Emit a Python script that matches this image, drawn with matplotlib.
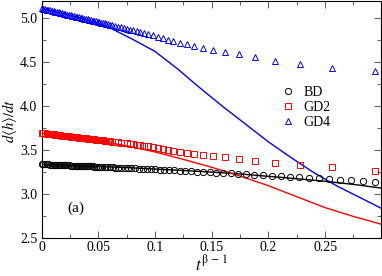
import matplotlib
matplotlib.use("Agg")
import matplotlib.pyplot as plt

plt.rcParams["font.family"] = ["Liberation Serif", "DejaVu Serif"]
plt.rcParams["mathtext.fontset"] = "stix"

# GD2 / GD4 markers share the same x positions
gd_x = [0.000, 0.0015, 0.003, 0.0045, 0.006, 0.0075, 0.009, 0.0105, 0.012, 0.0135,
        0.015, 0.0165, 0.018, 0.0195, 0.021, 0.0225, 0.024, 0.0255, 0.027, 0.0285,
        0.030, 0.0315, 0.033, 0.0345, 0.036, 0.0375, 0.039, 0.0405, 0.042, 0.0435,
        0.045, 0.0465, 0.048, 0.0495, 0.051, 0.0525, 0.054, 0.0555, 0.057, 0.0585,
        0.060, 0.0625, 0.065, 0.0675, 0.070, 0.0725, 0.075, 0.078, 0.081, 0.084,
        0.087, 0.0905, 0.094, 0.098, 0.1026, 0.107, 0.1114, 0.1161, 0.1217, 0.1279,
        0.1347, 0.1422, 0.1514, 0.1616, 0.1737, 0.1884, 0.2061, 0.2278, 0.2563, 0.2939]
gd4_y = [5.110, 5.105, 5.101, 5.096, 5.091, 5.087, 5.082, 5.077, 5.073, 5.068,
         5.064, 5.059, 5.054, 5.050, 5.045, 5.040, 5.036, 5.031, 5.026, 5.022,
         5.017, 5.012, 5.008, 5.003, 4.998, 4.994, 4.989, 4.984, 4.980, 4.975,
         4.971, 4.966, 4.961, 4.957, 4.952, 4.947, 4.943, 4.938, 4.933, 4.929,
         4.924, 4.916, 4.909, 4.901, 4.893, 4.885, 4.877, 4.868, 4.859, 4.850,
         4.840, 4.829, 4.818, 4.806, 4.788, 4.769, 4.752, 4.738, 4.720, 4.704,
         4.685, 4.663, 4.640, 4.613, 4.587, 4.553, 4.515, 4.477, 4.432, 4.394]
gd2_y = [3.690, 3.688, 3.685, 3.683, 3.681, 3.678, 3.676, 3.674, 3.671, 3.669,
         3.667, 3.664, 3.662, 3.660, 3.657, 3.655, 3.653, 3.650, 3.648, 3.646,
         3.644, 3.641, 3.639, 3.637, 3.634, 3.632, 3.630, 3.627, 3.625, 3.623,
         3.620, 3.618, 3.616, 3.613, 3.611, 3.609, 3.606, 3.604, 3.602, 3.599,
         3.597, 3.593, 3.589, 3.585, 3.581, 3.577, 3.573, 3.568, 3.563, 3.558,
         3.552, 3.546, 3.539, 3.531, 3.516, 3.505, 3.494, 3.483, 3.472, 3.462,
         3.454, 3.443, 3.428, 3.412, 3.394, 3.372, 3.349, 3.322, 3.299, 3.261]

bd_x = [0.000, 0.0015, 0.003, 0.0045, 0.006, 0.0075, 0.009, 0.0105, 0.012, 0.0135,
        0.015, 0.0165, 0.018, 0.0195, 0.021, 0.0225, 0.024, 0.0255, 0.027, 0.0285,
        0.030, 0.0315, 0.033, 0.0345, 0.036, 0.0375, 0.039, 0.0405, 0.042, 0.0435,
        0.045, 0.0465, 0.048, 0.0495, 0.0515, 0.0535, 0.0556, 0.0578, 0.0602, 0.0626,
        0.0651, 0.0677, 0.0704, 0.0732, 0.0761, 0.0791, 0.0823, 0.0856, 0.0890, 0.0926,
        0.0963, 0.1001, 0.1041, 0.1083, 0.1126, 0.1171, 0.1218, 0.1267, 0.1317, 0.1370,
        0.1425, 0.1482, 0.1541, 0.1603, 0.1667, 0.1734, 0.1803, 0.1875, 0.1950, 0.2034,
        0.2108, 0.2187, 0.2269, 0.2358, 0.2446, 0.2534, 0.2632, 0.2731, 0.2837, 0.2943]
bd_y = [3.335, 3.334, 3.333, 3.332, 3.332, 3.331, 3.330, 3.329, 3.328, 3.327,
        3.326, 3.325, 3.325, 3.324, 3.323, 3.322, 3.321, 3.320, 3.319, 3.318,
        3.318, 3.317, 3.316, 3.315, 3.314, 3.313, 3.312, 3.312, 3.311, 3.310,
        3.309, 3.308, 3.307, 3.306, 3.305, 3.304, 3.303, 3.302, 3.300, 3.299,
        3.297, 3.296, 3.294, 3.292, 3.291, 3.289, 3.287, 3.285, 3.283, 3.280,
        3.278, 3.275, 3.273, 3.270, 3.267, 3.264, 3.261, 3.258, 3.255, 3.251,
        3.248, 3.244, 3.240, 3.235, 3.231, 3.226, 3.221, 3.216, 3.211, 3.204,
        3.199, 3.193, 3.187, 3.180, 3.173, 3.167, 3.159, 3.151, 3.143, 3.134]

# solid curves
fit_x = [0.000, 0.025, 0.050, 0.075, 0.100, 0.125, 0.150, 0.175, 0.200, 0.225,
         0.250, 0.275, 0.300]
bd_fit = [3.335, 3.323, 3.310, 3.296, 3.280, 3.263, 3.245, 3.224, 3.197, 3.170,
          3.140, 3.105, 3.062]
gd2_fit = [3.690, 3.645, 3.600, 3.545, 3.475, 3.390, 3.300, 3.200, 3.090, 2.965,
           2.840, 2.740, 2.650]
gd4_x = [0.000, 0.020, 0.040, 0.060, 0.080, 0.100, 0.105, 0.120, 0.140, 0.160,
         0.180, 0.200, 0.220, 0.240, 0.260, 0.280, 0.300]
gd4_fit = [5.110, 5.050, 4.980, 4.890, 4.760, 4.620, 4.570, 4.420, 4.200, 3.990,
           3.790, 3.590, 3.410, 3.240, 3.090, 2.960, 2.830]

xticks = [0, 0.05, 0.1, 0.15, 0.2, 0.25]
xtick_labels = ["0", "0.05", "0.1", "0.15", "0.2", "0.25"]
yticks = [2.5, 3.0, 3.5, 4.0, 4.5, 5.0]
ytick_labels = ["2.5", "3.0", "3.5", "4.0", "4.5", "5.0"]

fig = plt.figure(figsize=(3.82, 2.76), dpi=100)
ax = fig.add_axes([41.6 / 382, 1 - 237.5 / 276, (381 - 41.6) / 382, 237.0 / 276])

ax.plot(fit_x, bd_fit, color="black", lw=1.0, zorder=2)
ax.plot(fit_x, gd2_fit, color="red", lw=1.0, zorder=2)
ax.plot(gd4_x, gd4_fit, color="blue", lw=1.0, zorder=2)

ax.plot(bd_x, bd_y, ls="none", marker="o", ms=4.5, mfc="none", mec="black",
        mew=0.7, label="BD", clip_on=False, zorder=3)
ax.plot(gd_x, gd2_y, ls="none", marker="s", ms=4.0, mfc="none", mec="red",
        mew=0.7, label="GD2", clip_on=False, zorder=3)
ax.plot(gd_x, gd4_y, ls="none", marker="^", ms=4.5, mfc="none", mec="blue",
        mew=0.7, label="GD4", clip_on=False, zorder=3)

ax.set_xlim(0, 0.2993)
ax.set_ylim(2.5, 5.2)
ax.set_xticks(xticks)
ax.set_xticklabels(xtick_labels)
ax.set_yticks(yticks)
ax.set_yticklabels(ytick_labels)
ax.set_xticks([0.025, 0.075, 0.125, 0.175, 0.225, 0.275], minor=True)
ax.set_yticks([2.75, 3.25, 3.75, 4.25, 4.75], minor=True)
ax.tick_params(which="both", direction="in", top=True, right=True,
               color="#666666", width=0.8, labelsize=10)
ax.tick_params(which="major", length=5)
ax.tick_params(which="minor", length=3)
ax.tick_params(axis="x", pad=2.5)
ax.tick_params(axis="y", pad=3)
for s in ax.spines.values():
    s.set_linewidth(0.8)

ax.set_ylabel(r"$d\langle h\rangle/dt$", fontsize=10.5)
ax.yaxis.set_label_coords(-0.066, 0.49)
ax.set_xlabel(r"$t^{\mathrm{\beta\,-\,1}}$", fontsize=12, labelpad=0)
ax.text(0.030, 2.83, "(a)", fontsize=11, ha="center", va="center")

ax.legend(loc="upper left", bbox_to_anchor=(0.705, 0.64), frameon=False,
          fontsize=10, handlelength=1.0, handletextpad=0.6, labelspacing=0.15,
          borderaxespad=0, borderpad=0)

fig.savefig("out.png", dpi=100)
